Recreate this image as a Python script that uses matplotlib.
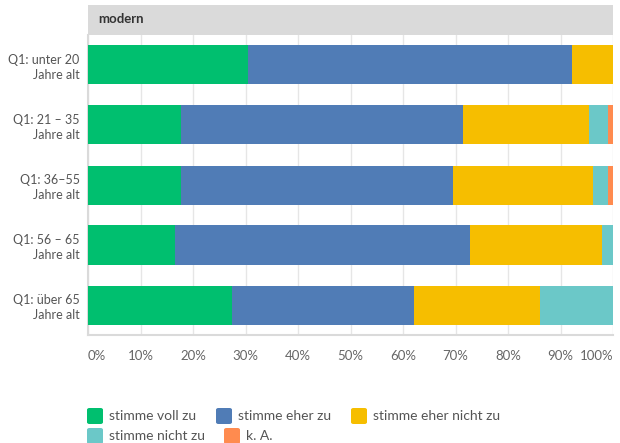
import matplotlib
matplotlib.use("Agg")
import matplotlib.pyplot as plt
from matplotlib.patches import Rectangle, FancyBboxPatch
import numpy as np

plt.rcParams['font.family'] = ['Lato', 'DejaVu Sans']

categories = ["Q1: unter 20\nJahre alt", "Q1: 21 – 35\nJahre alt", "Q1: 36–55\nJahre alt",
              "Q1: 56 – 65\nJahre alt", "Q1: über 65\nJahre alt"]
series_names = ["stimme voll zu", "stimme eher zu", "stimme eher nicht zu", "stimme nicht zu", "k. A."]
voll_zu = [30.5, 17.8, 17.8, 16.6, 27.4]
eher_zu = [61.6, 53.6, 51.8, 56.1, 34.6]
eher_nicht_zu = [7.9, 24.1, 26.5, 25.2, 24.1]
nicht_zu = [0.0, 3.6, 3.0, 2.1, 13.9]
k_a = [0.0, 0.9, 0.9, 0.0, 0.0]
ticks = [0, 10, 20, 30, 40, 50, 60, 70, 80, 90, 100]
tick_labels = ["0%", "10%", "20%", "30%", "40%", "50%", "60%", "70%", "80%", "90%", "100%"]
colors = ["#00BF6F", "#507CB6", "#F6BE00", "#6BC8C8", "#FF8B4F"]

fig = plt.figure(figsize=(6.2, 4.43), dpi=100)
W, H = 620, 443
ax = fig.add_axes([88 / W, 1 - 335 / H, (613 - 88) / W, 300 / H])

series = [voll_zu, eher_zu, eher_nicht_zu, nicht_zu, k_a]
y = np.arange(len(categories))
left = np.zeros(len(categories))
for vals, col, name in zip(series, colors, series_names):
    vals = np.array(vals)
    ax.barh(y, vals, left=left, height=0.65, color=col, label=name, zorder=3)
    left += vals

ax.set_xlim(0, 100)
ax.set_ylim(4.5, -0.5)
ax.set_yticks(y)
ax.set_yticklabels(categories, fontsize=9, color="#555555", ha="right", linespacing=1.3)
ax.set_xticks(ticks)
ax.set_xticklabels(tick_labels, fontsize=9.5, color="#666666")
xl = ax.get_xticklabels()
xl[0].set_ha("left")
xl[-1].set_ha("right")
ax.tick_params(axis="both", length=0)
ax.tick_params(axis="x", pad=11)
ax.tick_params(axis="y", pad=6)
ax.grid(axis="x", color="#E6E6E6", linewidth=1, zorder=0)
for s in ["top", "right"]:
    ax.spines[s].set_visible(False)
ax.spines["left"].set_color("#DADADA")
ax.spines["left"].set_linewidth(1.5)
ax.spines["bottom"].set_color("#DADADA")
ax.spines["bottom"].set_linewidth(1.5)

# facet strip header
fig.patches.append(Rectangle((88 / W, 1 - 35 / H), (613 - 88) / W, 30 / H,
                             transform=fig.transFigure, facecolor="#DADADA", edgecolor="none"))
fig.text(98 / W, 1 - 19 / H, "modern", fontsize=9.5, fontweight="bold", color="#333333", va="center")

# legend (flow layout)
rows = [[(87, 0), (216, 1), (351, 2)], [(87, 3), (224, 4)]]
row_y = [416, 436]
for r, items in enumerate(rows):
    for x0, idx in items:
        fig.patches.append(FancyBboxPatch((x0 / W, 1 - (row_y[r] + 8) / H), 16 / W, 16 / H,
                                          boxstyle="round,pad=0,rounding_size=0.004",
                                          transform=fig.transFigure, facecolor=colors[idx],
                                          edgecolor="none"))
        fig.text((x0 + 22) / W, 1 - row_y[r] / H, series_names[idx], fontsize=10,
                 color="#555555", va="center")

fig.savefig("out.png", dpi=100)
